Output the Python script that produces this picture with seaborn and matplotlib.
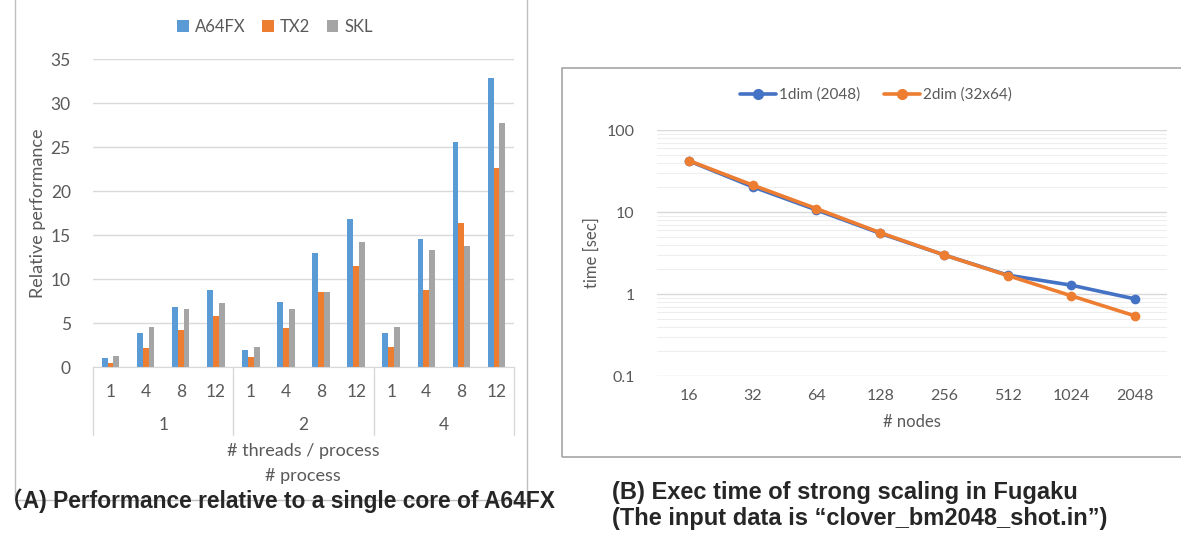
import matplotlib.pyplot as plt
import matplotlib.patches as mpatches
from matplotlib.lines import Line2D
import seaborn as sns
import pandas as pd

# (A) relative performance, 3 procs x 4 thread counts
processes = ["1", "2", "4"]
threads = ["1", "4", "8", "12"]
cpus = ["A64FX", "TX2", "SKL"]
a64fx = [1.0, 3.9, 6.8, 8.7, 1.9, 7.4, 13.0, 16.8, 3.9, 14.6, 25.6, 32.8]
tx2 = [0.5, 2.2, 4.2, 5.8, 1.1, 4.4, 8.5, 11.5, 2.3, 8.7, 16.4, 22.6]
skl = [1.2, 4.5, 6.6, 7.3, 2.3, 6.6, 8.5, 14.2, 4.6, 13.3, 13.7, 27.7]

# (B) strong scaling on Fugaku
nodes = ["16", "32", "64", "128", "256", "512", "1024", "2048"]
time_1dim = [42.0, 20.3, 10.6, 5.5, 3.0, 1.7, 1.28, 0.87]
time_2dim = [42.3, 21.3, 11.0, 5.6, 3.0, 1.68, 0.95, 0.54]

W, H = 1181, 538
sns.set_style("white")
plt.rcParams["font.family"] = ["Lato", "DejaVu Sans"]
grey_txt = "#595959"
grid_c = "#D9D9D9"

rows = []
for i, p in enumerate(processes):
    for j, t in enumerate(threads):
        k = i * 4 + j
        for cpu, vals in zip(cpus, [a64fx, tx2, skl]):
            rows.append({"cat": p + "-" + t, "cpu": cpu, "perf": vals[k]})
df = pd.DataFrame(rows)

fig = plt.figure(figsize=(W / 100, H / 100), dpi=100)


def fx(px):
    return px / W


def fy(py):
    return 1 - py / H


# chart frames
fig.add_artist(mpatches.Rectangle((fx(15), fy(500)), fx(527 - 15), 0.2 + 500 / H,
                                  transform=fig.transFigure, fill=False,
                                  edgecolor="#BFBFBF", lw=1))
fig.add_artist(mpatches.Rectangle((fx(562), fy(457)), fx(1190 - 562), (457 - 68) / H,
                                  transform=fig.transFigure, fill=False,
                                  edgecolor="#A6A6A6", lw=1.2))

# ---------- left: bar chart ----------
ax1 = fig.add_axes([fx(93), fy(367), fx(514 - 93), (367 - 59) / H])
sns.barplot(data=df, x="cat", y="perf", hue="cpu", hue_order=cpus,
            palette=["#5B9BD5", "#ED7D31", "#A5A5A5"], width=0.5,
            saturation=1, linewidth=0, ax=ax1)
ax1.set_ylim(0, 35)
ax1.set_xlim(-0.5, 11.5)
ax1.set_yticks(range(0, 36, 5))
ax1.yaxis.grid(True, color=grid_c, lw=1)
ax1.set_axisbelow(True)
for s in ["top", "right", "left"]:
    ax1.spines[s].set_visible(False)
ax1.spines["bottom"].set_color(grid_c)
ax1.set_xticks(range(12))
ax1.set_xticklabels(threads * 3)
ax1.tick_params(axis="x", length=0, pad=12, labelsize=12.5, labelcolor=grey_txt)
ax1.tick_params(axis="y", length=0, pad=16, labelsize=12.5, labelcolor=grey_txt)
ax1.set_xlabel("")
ax1.set_ylabel("Relative performance", fontsize=13, color=grey_txt, labelpad=3)

tr = ax1.get_xaxis_transform()
sep_bottom = -(435 - 367) / (367 - 59)
for xs in [-0.5, 3.5, 7.5, 11.5]:
    ax1.plot([xs, xs], [0, sep_bottom], color=grid_c, lw=1, transform=tr, clip_on=False)
for i, p in enumerate(processes):
    ax1.text(i * 4 + 1.5, -(425 - 367) / (367 - 59), p, transform=tr,
             ha="center", va="center", fontsize=12.5, color=grey_txt)
fig.text(fx(303), fy(451), "# threads / process", ha="center", va="center",
         fontsize=13, color=grey_txt)
fig.text(fx(303), fy(476), "# process", ha="center", va="center",
         fontsize=13, color=grey_txt)
sns.move_legend(ax1, "center", bbox_to_anchor=(fx(275), fy(27)),
                bbox_transform=fig.transFigure, ncol=3, title=None, frameon=False,
                handlelength=0.7, handleheight=0.7, handletextpad=0.35,
                columnspacing=1.0, fontsize=12, labelcolor=grey_txt)

# ---------- right: line chart ----------
ax2 = fig.add_axes([fx(657), fy(376), fx(1167 - 657), (376 - 130) / H])
sns.lineplot(x=nodes, y=time_1dim, color="#4472C4", lw=2.6, marker="o",
             markersize=7, markeredgewidth=0, sort=False, ax=ax2)
sns.lineplot(x=nodes, y=time_2dim, color="#ED7D31", lw=2.6, marker="o",
             markersize=7, markeredgewidth=0, sort=False, ax=ax2)
ax2.set_yscale("log")
ax2.set_ylim(0.1, 100)
ax2.set_xlim(-0.5, 7.5)
ax2.set_yticks([0.1, 1, 10, 100])
ax2.set_yticklabels(["0.1", "1", "10", "100"])
ax2.yaxis.grid(True, which="major", color=grid_c, lw=1)
ax2.yaxis.grid(True, which="minor", color="#EEEEEE", lw=0.8)
ax2.set_axisbelow(True)
for s in ax2.spines.values():
    s.set_visible(False)
ax2.tick_params(axis="both", which="both", length=0, labelsize=11.5, labelcolor=grey_txt)
ax2.tick_params(axis="x", pad=9)
ax2.tick_params(axis="y", pad=16)
ax2.set_xlabel("# nodes", fontsize=12, color=grey_txt, labelpad=8)
ax2.set_ylabel("time [sec]", fontsize=12, color=grey_txt, labelpad=5)
handles = [Line2D([], [], color="#4472C4", lw=2.6, marker="o", markersize=7),
           Line2D([], [], color="#ED7D31", lw=2.6, marker="o", markersize=7)]
ax2.legend(handles, ["1dim (2048)", "2dim (32x64)"], loc="center",
           bbox_to_anchor=(fx(876), fy(95)), bbox_transform=fig.transFigure,
           ncol=2, frameon=False, handlelength=2.4, handletextpad=0.2,
           columnspacing=1.5, fontsize=11, labelcolor=grey_txt)

# captions
cap_font = ["Liberation Sans Narrow", "Liberation Sans", "Noto Sans CJK JP"]
fig.text(0.0, fy(501), "（A) Performance relative to a single core of A64FX",
         ha="left", va="center", fontsize=16.4, fontweight="bold", family=cap_font)
fig.text(fx(612), fy(492), "(B) Exec time of strong scaling in Fugaku",
         ha="left", va="center", fontsize=17, fontweight="bold", family=cap_font)
fig.text(fx(612), fy(519), "(The input data is \u201cclover_bm2048_shot.in\u201d)",
         ha="left", va="center", fontsize=17, fontweight="bold", family=cap_font)

fig.savefig("out.png", dpi=100)
